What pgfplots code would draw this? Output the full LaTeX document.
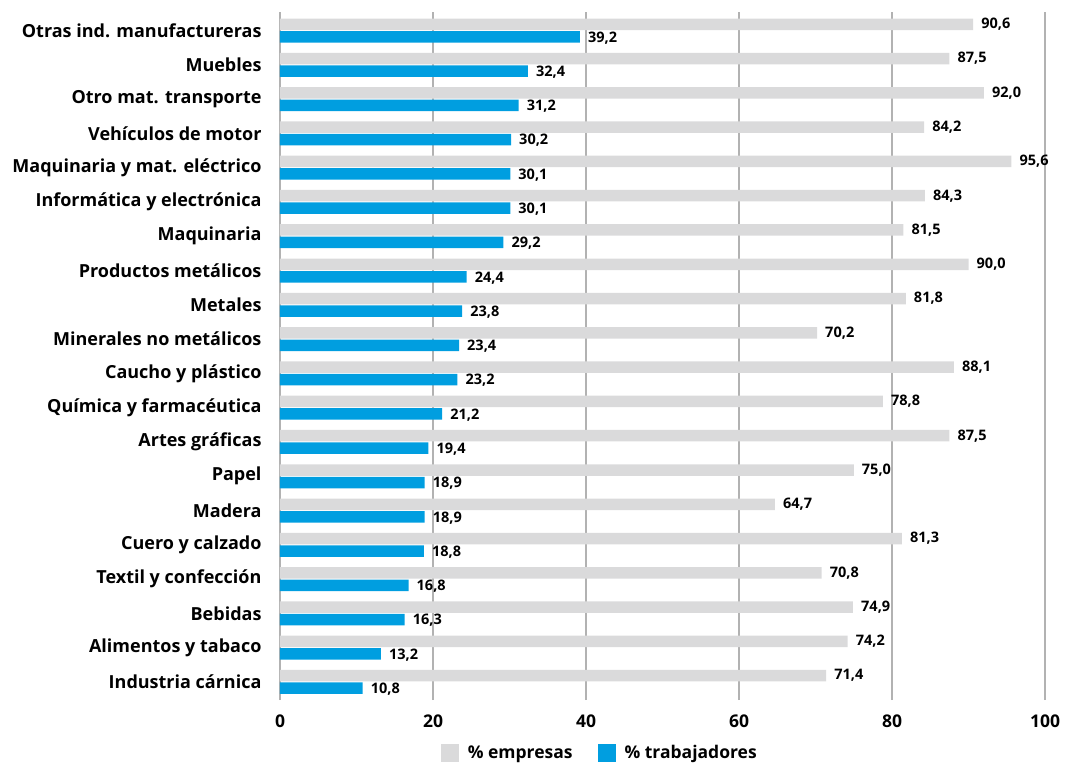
\documentclass[border=0pt]{standalone}
\usepackage{pgfplots}
\pgfplotsset{compat=1.18}
\usetikzlibrary{calc}
\usepackage{fontspec}
\setmainfont{Open Sans}
\definecolor{gbar}{RGB}{218,218,219}
\definecolor{bbar}{RGB}{0,158,224}
\definecolor{gridc}{RGB}{178,178,178}
\begin{document}
\begin{tikzpicture}
\begin{axis}[
  scale only axis,
  width=765pt, height=688pt,
  xbar, bar width=11.5pt,
  xmin=0, xmax=100,
  ymin=-0.525, ymax=19.54,
  axis line style={draw=none},
  xtick={0,20,40,60,80,100},
  xmajorgrids, grid style={gridc, line width=1.6pt},
  major tick length=0pt,
  ytick={0,...,19},
  yticklabels={Industria cárnica, Alimentos y tabaco, Bebidas, Textil y confección, Cuero y calzado, Madera, Papel, Artes gráficas, Química y farmacéutica, Caucho y plástico, Minerales no metálicos, Metales, Productos metálicos, Maquinaria, Informática y electrónica, Maquinaria y mat. eléctrico, Vehículos de motor, Otro mat. transporte, Muebles, Otras ind. manufactureras},
  yticklabel style={font=\fontsize{18}{21}\selectfont\bfseries, xshift=-15pt},
  xticklabel style={font=\fontsize{17.5}{20}\selectfont\bfseries, yshift=-11pt},
  /pgf/number format/assume math mode=true,
  nodes near coords={\pgfmathprintnumber[fixed, fixed zerofill, precision=1, use comma]{\pgfplotspointmeta}},
  nodes near coords style={font=\fontsize{14.5}{16}\selectfont\bfseries, anchor=west, inner sep=1pt, xshift=7pt},
  clip=false,
  legend style={at={(0.418,-0.077)}, anchor=center, draw=none, fill=none,
    legend columns=2, font=\fontsize{17.5}{20}\selectfont\bfseries,
    /tikz/every odd column/.append style={column sep=7pt},
    /tikz/every even column/.append style={column sep=23pt}},
  legend image code/.code={\fill[#1] (0pt,-9pt) rectangle (18pt,9pt);},
]
\addplot[draw=none, fill=gbar, bar shift=6.25pt] coordinates {
(71.4,0) (74.2,1) (74.9,2) (70.8,3) (81.3,4) (64.7,5) (75.0,6) (87.5,7) (78.8,8) (88.1,9) (70.2,10) (81.8,11) (90.0,12) (81.5,13) (84.3,14) (95.6,15) (84.2,16) (92.0,17) (87.5,18) (90.6,19)};
\addlegendentry{\% empresas}
\addplot[draw=none, fill=bbar, bar shift=-6.25pt, every node near coord/.append style={yshift=-1pt}] coordinates {
(10.8,0) (13.2,1) (16.3,2) (16.8,3) (18.8,4) (18.9,5) (18.9,6) (19.4,7) (21.2,8) (23.2,9) (23.4,10) (23.8,11) (24.4,12) (29.2,13) (30.1,14) (30.1,15) (30.2,16) (31.2,17) (32.4,18) (39.2,19)};
\addlegendentry{\% trabajadores}
\end{axis}
\path ($(current axis.south west)+(-280pt,-65pt)$) rectangle ($(current axis.north east)+(25pt,12pt)$);
\end{tikzpicture}
\end{document}
